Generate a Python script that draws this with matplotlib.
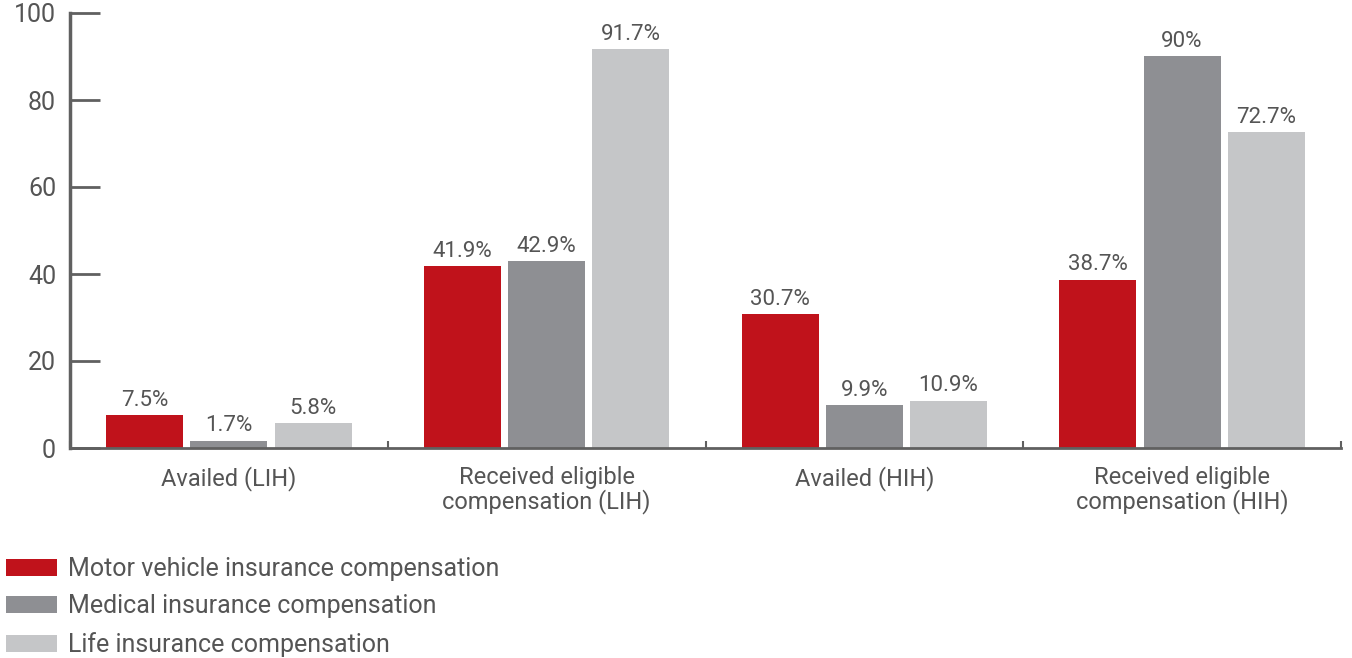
import matplotlib
matplotlib.use("Agg")
import matplotlib.pyplot as plt
import numpy as np

plt.rcParams["font.family"] = ["Roboto", "DejaVu Sans"]

categories = ["Availed (LIH)", "Received eligible\ncompensation (LIH)",
              "Availed (HIH)", "Received eligible\ncompensation (HIH)"]
series_names = ["Motor vehicle insurance compensation",
                "Medical insurance compensation",
                "Life insurance compensation"]
motor = [7.5, 41.9, 30.7, 38.7]
medical = [1.7, 42.9, 9.9, 90]
life = [5.8, 91.7, 10.9, 72.7]
value_labels = [["7.5%", "41.9%", "30.7%", "38.7%"],
                ["1.7%", "42.9%", "9.9%", "90%"],
                ["5.8%", "91.7%", "10.9%", "72.7%"]]
yticks = [0, 20, 40, 60, 80, 100]

colors = ["#C0121B", "#8E8F93", "#C5C6C8"]
text_color = "#555555"
axis_color = "#606060"

fig = plt.figure(figsize=(13.52, 6.58), dpi=100)
ax = fig.add_axes([70 / 1352, 210 / 658, (1341 - 70) / 1352, 435 / 658])

x = np.arange(len(categories))
width = 0.242
step = 0.265
handles = []
for i, vals in enumerate([motor, medical, life]):
    bars = ax.bar(x + (i - 1) * step, vals, width, color=colors[i],
                  label=series_names[i], zorder=2)
    handles.append(bars)
    for rect, lab in zip(bars, value_labels[i]):
        ax.annotate(lab, (rect.get_x() + rect.get_width() / 2, rect.get_height()),
                    xytext=(0, 3), textcoords="offset points",
                    ha="center", va="bottom", fontsize=16, color=text_color)

ax.set_xlim(-0.5, len(categories) - 0.5)
ax.set_ylim(0, 100)
ax.set_yticks(yticks)
ax.tick_params(axis="y", direction="in", length=21.5, width=2, color=axis_color,
               labelsize=18, labelcolor=text_color, pad=10)

# group dividers as small upward ticks, labels at centres
ax.set_xticks(np.arange(-0.5, len(categories)))
ax.set_xticklabels([])
ax.tick_params(axis="x", which="major", direction="in", length=5, width=1.5,
               color=axis_color)
ax.set_xticks(x, minor=True)
ax.set_xticklabels(categories, minor=True)
ax.tick_params(axis="x", which="minor", length=0, labelsize=17,
               labelcolor=text_color, pad=13)
for lab in ax.get_xticklabels(minor=True):
    lab.set_linespacing(1.0)

for side in ["top", "right"]:
    ax.spines[side].set_visible(False)
ax.spines["left"].set_color(axis_color)
ax.spines["left"].set_linewidth(2.5)
ax.spines["bottom"].set_color(axis_color)
ax.spines["bottom"].set_linewidth(2)

fig.legend(handles=handles, loc="upper left", bbox_to_anchor=(6 / 1352, 1 - 557 / 658),
           frameon=False, fontsize=18, labelcolor=text_color, handlelength=2.05,
           handleheight=0.68, handletextpad=0.44, labelspacing=0.54,
           borderpad=0, borderaxespad=0)

fig.savefig("out.png", dpi=100)
